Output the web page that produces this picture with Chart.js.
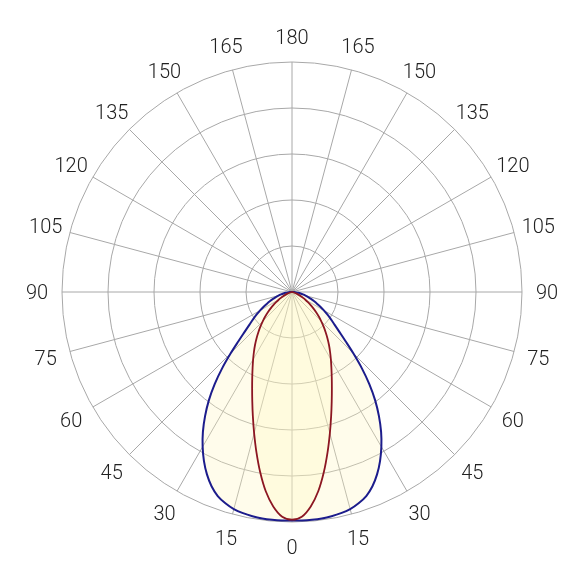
<!DOCTYPE html>
<html>
<head>
<meta charset="utf-8">
<script src="https://cdn.jsdelivr.net/npm/chart.js@4.4.0/dist/chart.umd.min.js"></script>
<style>
  html, body { margin: 0; padding: 0; background: #ffffff; }
  #wrap { width: 586px; height: 586px; }
</style>
</head>
<body>
<div id="wrap"><canvas id="grafico" width="586" height="586"></canvas></div>
<script>
// Ângulos gama (graus a partir do nadir) de 0 a 90, passo 2.5
const gamma = [0, 2.5, 5, 7.5, 10, 12.5, 15, 17.5, 20, 22.5, 25, 27.5, 30, 32.5, 35, 37.5, 40, 42.5,
  45, 47.5, 50, 52.5, 55, 57.5, 60, 62.5, 65, 67.5, 70, 72.5, 75, 77.5, 80, 82.5, 85, 87.5, 90]

// Curva azul (larga), intensidade relativa em % do máximo
const curvaAzul = [99.3, 99.4, 99.4, 99.3, 99.0, 98.5, 97.7, 96.3, 94.4, 91.4, 87.5, 82.9, 77.7, 72.1,
  65.9, 59.4, 52.3, 44.9, 37.7, 31.5, 26.8, 23.3, 20.6, 18.2, 16.0, 13.9, 12.0, 10.3, 8.8, 7.4,
  6.1, 4.9, 3.8, 2.8, 1.8, 0.9, 0]

// Curva vermelha (estreita)
const curvaVermelha = [99.0, 97.8, 93.6, 87.4, 79.6, 71.4, 63.6, 56.6, 50.5, 45.3, 40.9, 37.1, 33.8,
  30.8, 28.0, 25.3, 22.7, 20.3, 18.0, 15.8, 13.7, 11.7, 9.9, 8.2, 6.7, 5.3, 4.1, 3.0, 2.1, 1.4,
  0.8, 0.4, 0.15, 0.05, 0, 0, 0]

// Rótulos dos ângulos, no sentido horário a partir do topo
const rotulosAngulo = ['180', '165', '150', '135', '120', '105', '90', '75', '60', '45', '30', '15',
  '0', '15', '30', '45', '60', '75', '90', '105', '120', '135', '150', '165']

const passo = 2.5
const nPontos = 360 / passo   // 144 direções
const porRotulo = 15 / passo  // uma linha radial a cada 15 graus

// Monta os rótulos e os dados da volta completa (lado de cima fica em zero)
let labels = []
let dadosAzul = []
let dadosVermelho = []
for (let i = 0; i < nPontos; i++) {
  labels.push(i % porRotulo === 0 ? rotulosAngulo[i / porRotulo] : '')
  const g = Math.abs(180 - i * passo)
  const k = gamma.indexOf(g)
  dadosAzul.push(k >= 0 ? curvaAzul[k] : 0)
  dadosVermelho.push(k >= 0 ? curvaVermelha[k] : 0)
}

const corGrade = '#a8a8a8'

// Escreve os rótulos centrados num círculo fora da grade
const rotulosCentrados = {
  id: 'rotulosCentrados',
  afterDraw(chart) {
    const escala = chart.scales.r
    const c = chart.ctx
    c.save()
    c.font = '300 20px Roboto'
    c.fillStyle = '#222222'
    c.textAlign = 'center'
    c.textBaseline = 'alphabetic'
    for (let i = 0; i < labels.length; i++) {
      if (labels[i] === '') continue
      const p = escala.getPointPosition(i, escala.drawingArea + 25)
      c.fillText(labels[i], p.x, p.y + 7)
    }
    c.restore()
  }
}

const config = {
  type: 'radar',
  data: {
    labels: labels,
    datasets: [
      {
        label: 'vermelha',
        data: dadosVermelho,
        borderColor: 'rgb(140, 22, 34)',
        borderWidth: 1.8,
        backgroundColor: 'rgba(255, 246, 190, 0.27)',
        fill: 'origin',
        pointRadius: 0,
        tension: 0.35
      },
      {
        label: 'azul',
        data: dadosAzul,
        borderColor: 'rgb(28, 28, 140)',
        borderWidth: 2,
        backgroundColor: 'rgba(255, 246, 190, 0.3)',
        fill: 'origin',
        pointRadius: 0,
        tension: 0.35
      }
    ]
  },
  options: {
    responsive: false,
    animation: false,
    layout: { padding: { left: 62, right: 64, top: 62, bottom: 64 } },
    plugins: {
      legend: { display: false },
      tooltip: { enabled: false }
    },
    scales: {
      r: {
        min: 0,
        max: 100,
        ticks: { display: false, stepSize: 20 },
        grid: { circular: true, color: corGrade, lineWidth: 1 },
        angleLines: {
          color: corGrade,
          lineWidth: function (ctx) {
            return ctx.index % porRotulo === 0 ? 1 : 0
          }
        },
        pointLabels: { display: false }
      }
    }
  },
  plugins: [rotulosCentrados]
}

const ctx = document.getElementById('grafico').getContext('2d')
new Chart(ctx, config)
</script>
</body>
</html>
